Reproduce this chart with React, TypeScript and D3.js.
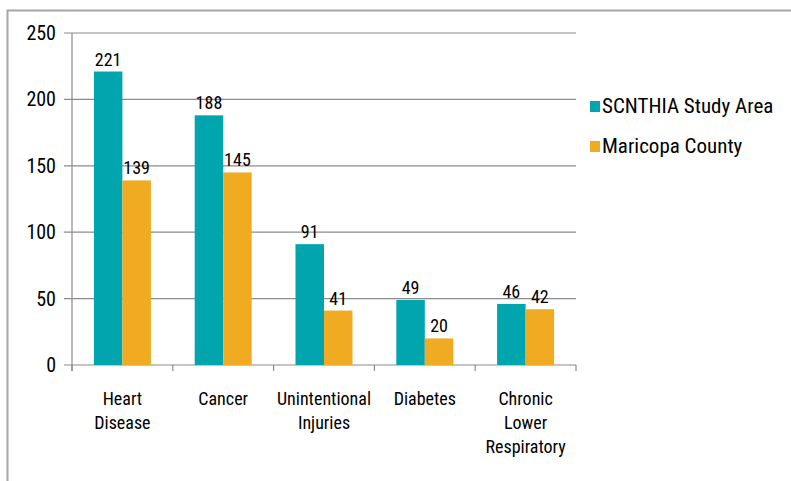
import React from "react";
import * as d3 from "d3";

const categories = [["Heart", "Disease"], ["Cancer"], ["Unintentional", "Injuries"], ["Diabetes"], ["Chronic", "Lower", "Respiratory"]];
const studyArea = [221, 188, 91, 49, 46];
const maricopa = [139, 145, 41, 20, 42];
const seriesNames = ["SCNTHIA Study Area", "Maricopa County"];
const yTicks = [0, 50, 100, 150, 200, 250];

const W = 791, H = 481;
const FONT = "'Liberation Sans Narrow', 'Arial Narrow', 'Roboto Condensed', Roboto, sans-serif";
const colors = ["#00A5AD", "#F0AB22"];

export default function App() {
  const x0 = 72, x1 = 576;
  const y = d3.scaleLinear().domain([0, 250]).range([365, 33]);
  const x = d3.scaleBand<number>().domain(d3.range(categories.length)).range([x0, x1]).paddingInner(0).paddingOuter(0);
  const bw = 28.5;
  const series = [studyArea, maricopa];
  return (
    <svg width={W} height={H} style={{ position: "absolute", left: 0, top: 0 }} fontFamily={FONT}>
      <rect x={0} y={0} width={W} height={H} fill="#fff" />
      <path d={`M7.5,${H} V10.5 H${W}`} fill="none" stroke="#A6A6A6" strokeWidth={2} />
      {yTicks.map((t) => (
        <g key={t}>
          <line x1={x0 - 8} x2={x1} y1={y(t)} y2={y(t)} stroke="#8C8C8C" strokeWidth={1.2} />
          <text x={56} y={y(t)} dy="0.35em" textAnchor="end" fontSize={20} fill="#000">{t}</text>
        </g>
      ))}
      <line x1={x0} x2={x0} y1={y(250)} y2={y(0) + 6} stroke="#8C8C8C" strokeWidth={1.2} />
      {d3.range(categories.length + 1).map((i) => {
        const xx = x0 + i * x.bandwidth();
        return <line key={i} x1={xx} x2={xx} y1={y(0)} y2={y(0) + 6} stroke="#8C8C8C" strokeWidth={1.2} />;
      })}
      {categories.map((c, i) => {
        const cx = (x(i) as number) + x.bandwidth() / 2;
        return (
          <g key={i}>
            {series.map((s, j) => {
              const bx = cx - bw + j * bw;
              return (
                <g key={j}>
                  <rect x={bx} y={y(s[i])} width={bw} height={y(0) - y(s[i])} fill={colors[j]} />
                  <text x={bx + bw / 2} y={y(s[i]) - 6} textAnchor="middle" fontSize={18} fill="#000">{s[i]}</text>
                </g>
              );
            })}
            <text x={cx} y={405} textAnchor="middle" fontSize={18} fill="#000">
              {c.map((l, k) => (
                <tspan key={k} x={cx} dy={k === 0 ? 0 : 24}>{l}</tspan>
              ))}
            </text>
          </g>
        );
      })}
      {seriesNames.map((n, j) => (
        <g key={n} transform={`translate(590, ${106 + j * 40})`}>
          <rect x={0} y={-5} width={10} height={11} fill={colors[j]} />
          <text x={12} y={0} dy="0.35em" fontSize={21} fill="#000">{n}</text>
        </g>
      ))}
    </svg>
  );
}
